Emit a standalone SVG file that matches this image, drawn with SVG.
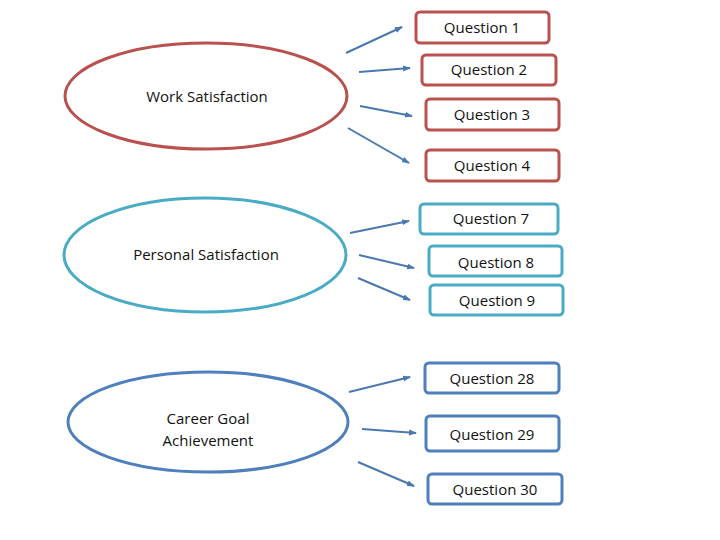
<svg xmlns="http://www.w3.org/2000/svg" width="720" height="540" viewBox="0 0 720 540">
<style>
text{font-family:"Open Sans","Liberation Sans",sans-serif;font-size:15px;fill:#111;text-anchor:middle}
.r{fill:#fff;stroke:#b9514f;stroke-width:3}
.t{fill:#fff;stroke:#4aabc4;stroke-width:3}
.b{fill:#fff;stroke:#4f7fbc;stroke-width:3}
.a{stroke:#4a78b0;stroke-width:2;marker-end:url(#m)}
</style>
<defs><marker id="m" markerWidth="8" markerHeight="8" refX="7" refY="4" orient="auto" markerUnits="userSpaceOnUse"><path d="M0,1 L8,4 L0,7 Z" fill="#4a78b0"/></marker></defs>
<rect width="720" height="540" fill="#fff"/>
<g id="work"><ellipse class="r" cx="206" cy="96" rx="141" ry="53"/><text x="207" y="102">Work Satisfaction</text></g>
<g id="personal"><ellipse class="t" cx="205" cy="255" rx="141" ry="57"/><text x="206" y="260">Personal Satisfaction</text></g>
<g id="career"><ellipse class="b" cx="208" cy="422" rx="140" ry="50"/><text x="208" y="424">Career Goal</text><text x="208" y="446">Achievement</text></g>
<g id="q1"><rect class="r" x="416" y="12" width="133" height="31" rx="4"/><text x="482" y="33">Question 1</text></g>
<g id="q2"><rect class="r" x="422" y="55" width="134" height="30" rx="4"/><text x="489" y="75">Question 2</text></g>
<g id="q3"><rect class="r" x="426" y="99" width="133" height="31" rx="4"/><text x="492" y="120">Question 3</text></g>
<g id="q4"><rect class="r" x="426" y="150" width="133" height="31" rx="4"/><text x="492" y="171">Question 4</text></g>
<g id="q7"><rect class="t" x="420" y="204" width="138" height="30" rx="4"/><text x="491" y="224">Question 7</text></g>
<g id="q8"><rect class="t" x="429" y="246" width="133" height="30" rx="4"/><text x="496" y="268">Question 8</text></g>
<g id="q9"><rect class="t" x="430" y="285" width="133" height="30" rx="4"/><text x="497" y="306">Question 9</text></g>
<g id="q28"><rect class="b" x="425" y="363" width="134" height="30" rx="4"/><text x="492" y="384">Question 28</text></g>
<g id="q29"><rect class="b" x="426" y="416" width="133" height="35" rx="4"/><text x="492" y="440">Question 29</text></g>
<g id="q30"><rect class="b" x="428" y="474" width="134" height="30" rx="4"/><text x="495" y="495">Question 30</text></g>
<g id="connectors">
<line class="a" x1="346" y1="53" x2="402" y2="27"/>
<line class="a" x1="359" y1="72" x2="410" y2="68"/>
<line class="a" x1="360" y1="106" x2="412" y2="116"/>
<line class="a" x1="348" y1="128" x2="409" y2="163"/>
<line class="a" x1="350" y1="233" x2="409" y2="221"/>
<line class="a" x1="359" y1="255" x2="414" y2="268"/>
<line class="a" x1="358" y1="278" x2="410" y2="300"/>
<line class="a" x1="349" y1="392" x2="410" y2="377"/>
<line class="a" x1="362" y1="429" x2="416" y2="433"/>
<line class="a" x1="358" y1="462" x2="414" y2="486"/>
</g>
</svg>
